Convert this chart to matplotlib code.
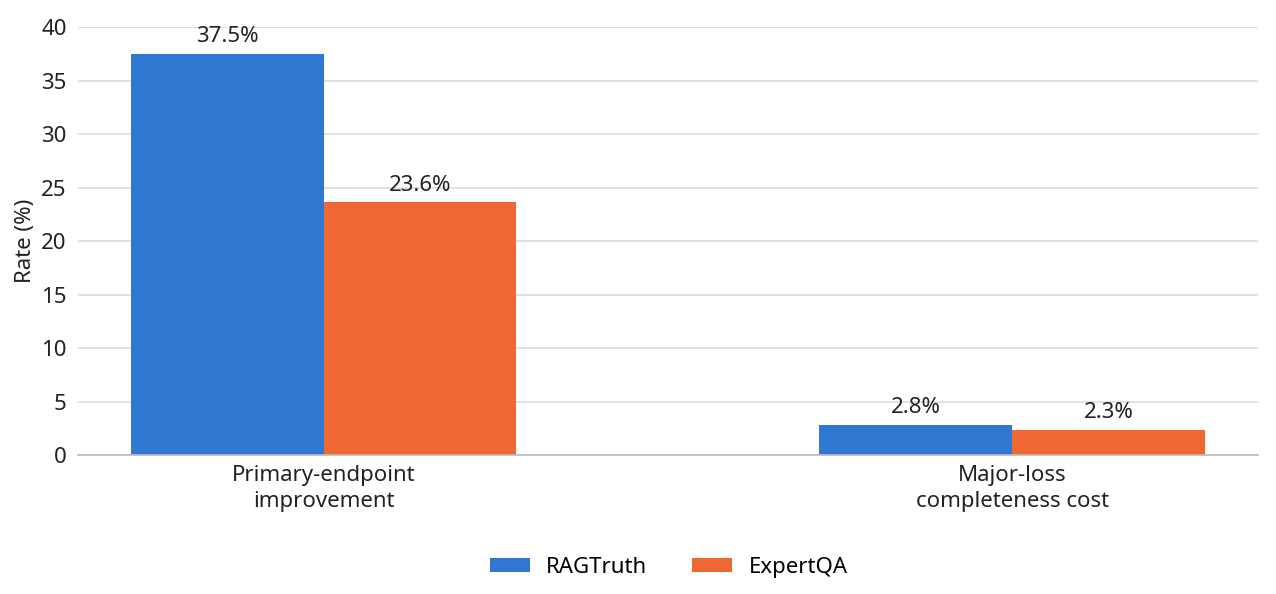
import numpy as np
import matplotlib.pyplot as plt

plt.rcParams['font.family'] = ['Noto Sans', 'DejaVu Sans']

categories = ['Primary-endpoint\nimprovement', 'Major-loss\ncompleteness cost']
ragtruth = [37.5, 2.8]
expertqa = [23.6, 2.3]
series_names = ['RAGTruth', 'ExpertQA']
colors = ['#2f77d0', '#ef6733']

x = np.arange(len(categories))
w = 0.28
fs = 16

fig = plt.figure(figsize=(12.76, 5.94), dpi=100)
ax = fig.add_axes([0.061, 0.234, 0.925, 0.7205])

b1 = ax.bar(x - w / 2, ragtruth, w, color=colors[0], label=series_names[0], zorder=2)
b2 = ax.bar(x + w / 2, expertqa, w, color=colors[1], label=series_names[1], zorder=2)

for bars, vals in ((b1, ragtruth), (b2, expertqa)):
    for b, v in zip(bars, vals):
        ax.annotate(f'{v}%', (b.get_x() + b.get_width() / 2, v),
                    xytext=(0, 5), textcoords='offset points',
                    ha='center', va='bottom', fontsize=fs, color='#222222')

ax.set_xlim(-0.357, 1.357)
ax.set_ylim(0, 40)
ax.set_yticks(np.arange(0, 41, 5))
ax.set_xticks(x)
ax.set_xticklabels(categories, fontsize=fs, color='#222222', linespacing=1.35)
ax.tick_params(axis='y', labelsize=fs, labelcolor='#222222', length=0, pad=8)
ax.tick_params(axis='x', length=0, pad=7)
ax.set_ylabel('Rate (%)', fontsize=fs, color='#222222', labelpad=4)

ax.grid(axis='y', color='#dddddd', linewidth=1.2, zorder=0)
for s in ['top', 'right', 'left']:
    ax.spines[s].set_visible(False)
ax.spines['bottom'].set_color('#bbbbbb')
ax.spines['bottom'].set_linewidth(1.2)

fig.legend(loc='center', bbox_to_anchor=(0.524, 0.045), ncol=2, frameon=False,
           fontsize=fs, handlelength=1.8, handleheight=0.65, columnspacing=2.0,
           handletextpad=0.75)

fig.savefig('out.png', dpi=100)
